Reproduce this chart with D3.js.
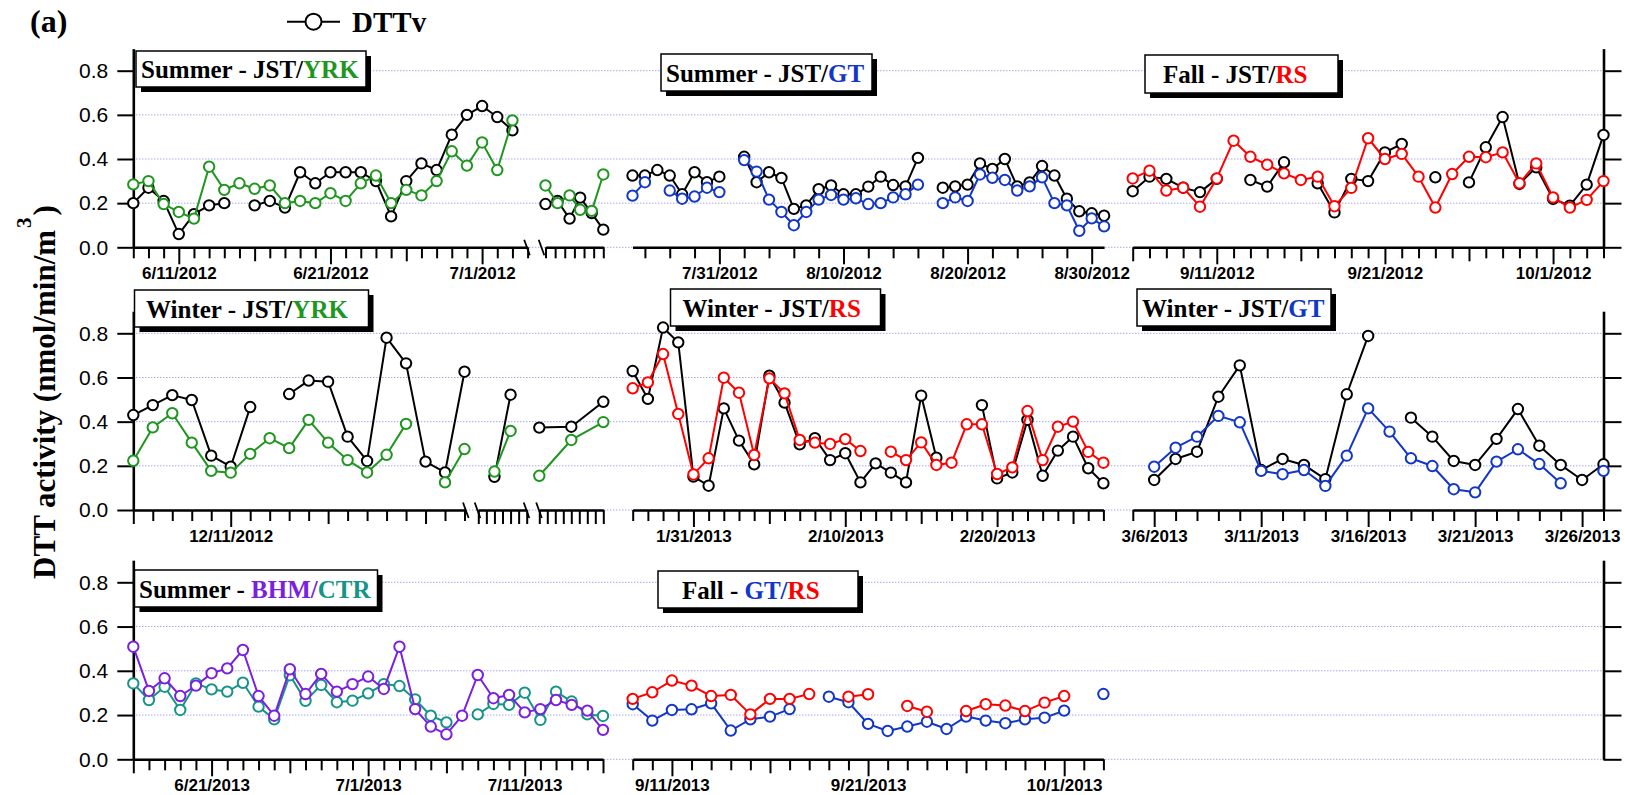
<!DOCTYPE html>
<html><head><meta charset="utf-8">
<script src="https://cdn.jsdelivr.net/npm/d3@7"></script>
<style>body{margin:0;background:#fff} svg{display:block}</style>
</head><body>
<svg id="chart" width="1625" height="795"></svg>
<script>
// ---------------- DATA ----------------
const yTicks = [0, 0.2, 0.4, 0.6, 0.8];

// Row 1, panel 1: Summer 2012 JST / YRK (daily from 6/8/2012)
const sumJY_start = "2012-06-08";
const sumJY_JST = [0.20,0.27,0.21,0.06,0.15,0.19,0.20,null,0.19,0.21,0.18,0.34,0.29,0.34,0.34,0.34,0.30,0.14,0.30,0.38,0.35,0.51,0.60,0.64,0.59,0.53];
const sumJY_YRK = [0.285,0.30,0.196,0.16,0.13,0.365,0.26,0.29,0.265,0.28,0.20,0.21,0.20,0.245,0.21,0.29,0.325,0.20,0.26,0.235,0.30,0.435,0.37,0.475,0.35,0.575];
const sumJY_labels = ["6/11/2012","6/21/2012","7/1/2012"];
// after axis break (positions in tick units)
const sumJY2_pos = [0,1.25,2.5,3.6,4.8,6];
const sumJY2_JST = [0.196,0.21,0.13,0.225,0.155,0.08];
const sumJY2_YRK = [0.28,0.20,0.235,0.17,0.165,0.33];

// Row 1, panel 2: Summer 2012 JST / GT (daily from 7/24/2012)
const sumJG_start = "2012-07-24";
const sumJG_JST = [0.325,0.325,0.35,0.325,0.24,0.34,0.295,0.32,null,0.41,0.295,0.34,0.314,0.174,0.19,0.263,0.28,0.24,0.24,0.275,0.32,0.282,0.276,0.405,null,0.27,0.276,0.284,0.38,0.355,0.40,0.276,0.294,0.368,0.325,0.22,0.163,0.154,0.143];
const sumJG_GT  = [0.234,0.295,null,0.257,0.22,0.23,0.27,0.25,null,0.395,0.343,0.216,0.16,0.10,0.16,0.216,0.237,0.216,0.222,0.196,0.20,0.226,0.24,0.284,null,0.20,0.226,0.21,0.33,0.315,0.305,0.257,0.276,0.317,0.20,0.19,0.075,0.131,0.095];
const sumJG_labels = ["7/31/2012","8/10/2012","8/20/2012","8/30/2012"];

// Row 1, panel 3: Fall 2012 JST / RS (daily from 9/6/2012)
const fallJR_start = "2012-09-06";
const fallJR_JST = [0.254,0.32,0.31,0.27,0.25,0.31,null,0.305,0.275,0.385,null,0.29,0.158,0.31,0.30,0.43,0.468,null,0.317,null,0.294,0.453,0.59,0.287,0.362,0.219,0.189,0.284,0.509];
const fallJR_RS  = [0.312,0.347,0.257,0.27,0.184,0.312,0.483,0.41,0.374,0.335,0.305,0.32,0.186,0.269,0.494,0.40,0.423,0.32,0.18,0.332,0.41,0.408,0.43,0.29,0.38,0.226,0.18,0.215,0.30];
const fallJR_labels = ["9/11/2012","9/21/2012","10/1/2012"];

// Row 2, panel 1: Winter 2012 JST / YRK (daily from 12/6/2012) + two broken segments
const winJY_start = "2012-12-06";
const winJY_JST = [0.43,0.475,0.52,0.498,0.246,0.196,0.466,null,0.525,0.586,0.581,0.332,0.222,0.78,0.664,0.219,0.17,0.626];
const winJY_YRK = [0.223,0.374,0.438,0.305,0.177,0.169,0.254,0.325,0.28,0.408,0.305,0.226,0.17,0.25,0.39,null,0.125,0.276];
const winJY_labels = ["12/11/2012"];
const winJY2_pos = [2,4];
const winJY2_JST = [0.15,0.522];
const winJY2_YRK = [0.174,0.358];
const winJY3_pos = [0,4,8];
const winJY3_JST = [0.373,0.377,0.49];
const winJY3_YRK = [0.155,0.317,0.398];

// Row 2, panel 2: Winter 2013 JST / RS (daily from 1/27/2013)
const winJR_start = "2013-01-27";
const winJR_JST = [0.629,0.503,0.826,0.759,0.151,0.11,0.46,0.314,0.207,0.608,0.486,0.297,0.325,0.226,0.257,0.125,0.211,0.169,0.125,0.518,0.237,null,null,0.475,0.143,0.17,0.408,0.155,0.269,0.332,0.189,0.121];
const winJR_RS  = [0.551,0.578,0.706,0.435,0.161,0.234,0.599,0.531,0.249,0.596,0.528,0.317,0.305,0.299,0.321,0.267,null,0.264,0.226,0.306,0.204,0.214,0.388,0.388,0.163,0.193,0.448,0.226,0.377,0.40,0.263,0.214];
const winJR_labels = ["1/31/2013","2/10/2013","2/20/2013"];

// Row 2, panel 3: Winter 2013 JST / GT (daily from 3/6/2013)
const winJG_start = "2013-03-06";
const winJG_JST = [0.136,0.231,0.264,0.513,0.655,0.181,0.231,0.204,0.14,0.524,0.788,null,0.418,0.332,0.222,0.204,0.322,0.457,0.291,0.204,0.136,0.207];
const winJG_GT  = [0.196,0.282,0.332,0.426,0.397,0.177,0.162,0.181,0.109,0.246,0.46,0.355,0.234,0.199,0.094,0.08,0.219,0.275,0.208,0.121,null,0.177];
const winJG_labels = ["3/6/2013","3/11/2013","3/16/2013","3/21/2013","3/26/2013"];

// Row 3, panel 1: Summer 2013 BHM / CTR (daily from 6/16/2013)
const sumBC_start = "2013-06-16";
const sumBC_BHM = [0.509,0.309,0.366,0.286,0.333,0.389,0.411,0.494,0.286,0.197,0.407,0.295,0.386,0.306,0.34,0.374,0.318,0.509,0.227,0.148,0.113,0.197,0.381,0.276,0.291,0.212,0.227,0.268,0.246,0.22,0.133];
const sumBC_CTR = [0.343,0.268,0.328,0.223,0.343,0.316,0.306,0.346,0.238,0.181,0.38,0.264,0.336,0.258,0.265,0.298,0.34,0.331,0.271,0.197,0.167,null,0.203,0.25,0.246,0.301,0.178,0.306,0.261,0.203,0.196];
const sumBC_labels = ["6/21/2013","7/1/2013","7/11/2013"];

// Row 3, panel 2: Fall 2013 GT / RS (daily from 9/9/2013)
const fallGR_start = "2013-09-09";
const fallGR_GT = [0.249,0.175,0.223,0.226,0.253,0.13,0.181,0.193,0.227,null,0.283,0.258,0.16,0.128,0.148,0.17,0.137,0.193,0.175,0.163,0.181,0.188,0.22,null,0.295];
const fallGR_RS = [0.273,0.303,0.356,0.333,0.286,0.291,0.203,0.273,0.273,0.295,null,0.283,0.294,null,0.241,0.215,null,0.218,0.249,0.243,0.218,0.256,0.286,null,null];
const fallGR_labels = ["9/11/2013","9/21/2013","10/1/2013"];

// ---------------- STYLE / LAYOUT ----------------
const C = {jst:"#000000", yrk:"#1f961f", gt:"#1236c8", rs:"#ff0000", bhm:"#7b1fe0", ctr:"#169488"};
const SERIF = "'Liberation Serif','Times New Roman',serif";
const SANS = "'Liberation Sans',Arial,sans-serif";
const parse = d3.utcParse("%Y-%m-%d");
const parseLabel = d3.utcParse("%m/%d/%Y");
const fmtDate = d3.utcFormat("%-m/%-d/%Y");

const svg = d3.select("#chart");
const ROWS = [{y0:247.3,y8:70.7},{y0:510,y8:333.3},{y0:759.3,y8:582.3}];
const X_LEFT = 133.3, X_RIGHT = 1603.5;
const yS = ROWS.map(r => d3.scaleLinear().domain([0,0.9]).range([r.y0, r.y0 - (r.y0-r.y8)*0.9/0.8]));

// gridlines
const gridG = svg.append("g");
ROWS.forEach((r,i) => {
  gridG.append("g").selectAll("line").data(yTicks).join("line")
    .attr("x1", X_LEFT).attr("x2", X_RIGHT)
    .attr("y1", d => yS[i](d)).attr("y2", d => yS[i](d))
    .attr("stroke", "#7c7cf0").attr("stroke-width", 1).attr("stroke-dasharray", "1,2");
});

const axesG = svg.append("g");
const dataG = svg.append("g");
const boxG = svg.append("g");

function styleAxis(g){
  g.attr("font-family", SANS).attr("font-size", 17).attr("font-weight","bold");
  g.select(".domain").attr("stroke","#000").attr("stroke-width",2.6);
  g.selectAll(".tick line").attr("stroke","#000").attr("stroke-width",2);
  g.selectAll(".tick text").attr("fill","#000");
}

// y axes
ROWS.forEach((r,i) => {
  const gl = axesG.append("g").attr("transform", `translate(${X_LEFT},0)`)
    .call(d3.axisLeft(yS[i]).tickValues(yTicks).tickFormat(d3.format(".1f")).tickSize(16).tickPadding(9).tickSizeOuter(0));
  styleAxis(gl);
  gl.attr("font-weight","normal").attr("font-size",21);
  const gr = axesG.append("g").attr("transform", `translate(${X_RIGHT},0)`)
    .call(d3.axisRight(yS[i]).tickValues(yTicks).tickFormat("").tickSize(18).tickSizeOuter(0));
  styleAxis(gr);
});

function series(start, values, color){
  const s = parse(start);
  return {color, pts: values.map((v,i)=>({x: d3.utcDay.offset(s,i), v}))};
}
function iseries(pos, values, color){
  return {color, pts: values.map((v,i)=>({x: pos[i], v}))};
}

function drawSeries(x, ys, s){
  const line = d3.line().defined(d => d.v != null).x(d => x(d.x)).y(d => ys(d.v));
  dataG.append("path").datum(s.pts).attr("d", line).attr("fill","none")
    .attr("stroke", s.color).attr("stroke-width", 2).attr("stroke-linejoin","round");
  dataG.append("g").selectAll("circle").data(s.pts.filter(d => d.v != null)).join("circle")
    .attr("cx", d => x(d.x)).attr("cy", d => ys(d.v)).attr("r", 5.2)
    .attr("fill","#fff").attr("stroke", s.color).attr("stroke-width", 2);
}

const timePanels = [
  {row:0, domain:["2012-06-08","2012-07-04"], range:[133.3,527.6], tickFrom:"2012-06-08", step:1, labels:sumJY_labels, mids:["2012-06-16","2012-06-26"],
   series:[series(sumJY_start,sumJY_JST,C.jst), series(sumJY_start,sumJY_YRK,C.yrk)]},
  {row:0, domain:["2012-07-24","2012-08-31"], range:[632.5,1104.1], tickFrom:"2012-07-25", step:2, labels:sumJG_labels, mids:[],
   series:[series(sumJG_start,sumJG_JST,C.jst), series(sumJG_start,sumJG_GT,C.gt)]},
  {row:0, domain:["2012-09-06","2012-10-04"], range:[1132.7,1603.5], tickFrom:"2012-09-06", step:1, labels:fallJR_labels, mids:["2012-09-06","2012-09-16","2012-09-26"],
   series:[series(fallJR_start,fallJR_JST,C.jst), series(fallJR_start,fallJR_RS,C.rs)]},
  {row:1, domain:["2012-12-06","2012-12-23"], range:[133.3,464.5], tickFrom:"2012-12-06", step:1, labels:winJY_labels, mids:["2012-12-06","2012-12-16","2012-12-21"],
   series:[series(winJY_start,winJY_JST,C.jst), series(winJY_start,winJY_YRK,C.yrk)]},
  {row:1, domain:["2013-01-27","2013-02-27"], range:[632.7,1103.4], tickFrom:"2013-01-27", step:1, labels:winJR_labels, mids:["2013-02-05","2013-02-15","2013-02-25"],
   series:[series(winJR_start,winJR_JST,C.jst), series(winJR_start,winJR_RS,C.rs)]},
  {row:1, domain:["2013-03-05","2013-03-27"], range:[1132.8,1603.5], tickFrom:"2013-03-05", step:1, labels:winJG_labels, mids:[],
   series:[series(winJG_start,winJG_JST,C.jst), series(winJG_start,winJG_GT,C.gt)]},
  {row:2, domain:["2013-06-16","2013-07-16"], range:[133.3,603.0], tickFrom:"2013-06-16", step:1, labels:sumBC_labels, mids:["2013-06-16","2013-06-26","2013-07-06","2013-07-16"],
   series:[series(sumBC_start,sumBC_CTR,C.ctr), series(sumBC_start,sumBC_BHM,C.bhm)]},
  {row:2, domain:["2013-09-09","2013-10-03"], range:[632.7,1103.4], tickFrom:"2013-09-09", step:1, labels:fallGR_labels, mids:["2013-09-16","2013-09-26"],
   series:[series(fallGR_start,fallGR_GT,C.gt), series(fallGR_start,fallGR_RS,C.rs)]}
];

timePanels.forEach(p => {
  const x = d3.scaleUtc().domain(p.domain.map(parse)).range(p.range);
  const y0 = ROWS[p.row].y0;
  const end = parse(p.domain[1]);
  const all = d3.utcDay.range(parse(p.tickFrom), d3.utcDay.offset(end,1)).filter((d,i) => i % p.step === 0);
  const majors = p.labels.map(parseLabel);
  const mids = p.mids.map(parse);
  const key = d => +d;
  const majSet = new Set(majors.map(key)), midSet = new Set(mids.map(key));
  const minors = all.filter(d => !majSet.has(+d) && !midSet.has(+d));
  const g1 = axesG.append("g").attr("transform",`translate(0,${y0})`)
    .call(d3.axisBottom(x).tickValues(minors).tickSize(11).tickFormat("").tickSizeOuter(0));
  styleAxis(g1);
  const g2 = axesG.append("g").attr("transform",`translate(0,${y0})`)
    .call(d3.axisBottom(x).tickValues(mids).tickSize(14).tickFormat("").tickSizeOuter(0));
  styleAxis(g2); g2.select(".domain").remove();
  const g3 = axesG.append("g").attr("transform",`translate(0,${y0})`)
    .call(d3.axisBottom(x).tickValues(majors).tickSize(17).tickPadding(3).tickFormat(fmtDate).tickSizeOuter(0));
  styleAxis(g3); g3.select(".domain").remove();
  p.series.forEach(s => drawSeries(x, yS[p.row], s));
});

// broken-axis index segments
const segPanels = [
  {row:0, n:7, range:[545.5,603.3], tick:11, series:[iseries(sumJY2_pos,sumJY2_JST,C.jst), iseries(sumJY2_pos,sumJY2_YRK,C.yrk)]},
  {row:1, n:7, range:[478.3,526.7], tick:14, series:[iseries(winJY2_pos,winJY2_JST,C.jst), iseries(winJY2_pos,winJY2_YRK,C.yrk)]},
  {row:1, n:9, range:[539.3,603.3], tick:14, series:[iseries(winJY3_pos,winJY3_JST,C.jst), iseries(winJY3_pos,winJY3_YRK,C.yrk)]}
];
segPanels.forEach(p => {
  const x = d3.scaleLinear().domain([0,p.n-1]).range(p.range);
  const g = axesG.append("g").attr("transform",`translate(0,${ROWS[p.row].y0})`)
    .call(d3.axisBottom(x).tickValues(d3.range(p.n)).tickSize(p.tick).tickFormat("").tickSizeOuter(0));
  styleAxis(g);
  p.series.forEach(s => drawSeries(x, yS[p.row], s));
});

// axis break marks
const breaks = [{row:0,x:527},{row:0,x:541.5},{row:1,x:465.8},{row:1,x:477.5},{row:1,x:526.5},{row:1,x:539}];
axesG.append("g").selectAll("line").data(breaks).join("line")
  .attr("x1", d => d.x-2.8).attr("y1", d => ROWS[d.row].y0-7.5)
  .attr("x2", d => d.x+2.8).attr("y2", d => ROWS[d.row].y0+8)
  .attr("stroke","#000").attr("stroke-width",1.8);

// title boxes
const boxes = [
  {x:136, y:51, w:230, h:36, tx:141, ty:77.5, parts:[["Summer - JST/",C.jst],["YRK",C.yrk]]},
  {x:661, y:54, w:211, h:37, tx:666, ty:81.5, parts:[["Summer - JST/",C.jst],["GT",C.gt]]},
  {x:1145, y:55, w:193, h:38, tx:1163, ty:83, parts:[["Fall - JST/",C.jst],["RS",C.rs]]},
  {x:134.5, y:290, w:234, h:37, tx:146, ty:317.5, parts:[["Winter - JST/",C.jst],["YRK",C.yrk]]},
  {x:670.5, y:289, w:210, h:37, tx:682.5, ty:316.5, parts:[["Winter - JST/",C.jst],["RS",C.rs]]},
  {x:1137, y:289, w:194, h:37, tx:1142, ty:317, parts:[["Winter - JST/",C.jst],["GT",C.gt]]},
  {x:134.5, y:570, w:243, h:37, tx:139, ty:597.5, parts:[["Summer - ",C.jst],["BHM/",C.bhm],["CTR",C.ctr]]},
  {x:658, y:571, w:200, h:37, tx:682, ty:599, parts:[["Fall - ",C.jst],["GT/",C.gt],["RS",C.rs]]}
];
boxes.forEach(b => {
  boxG.append("rect").attr("x",b.x+5).attr("y",b.y+5).attr("width",b.w).attr("height",b.h).attr("fill","#000");
  boxG.append("rect").attr("x",b.x).attr("y",b.y).attr("width",b.w).attr("height",b.h).attr("fill","#fff").attr("stroke","#000").attr("stroke-width",1.5);
  const t = boxG.append("text").attr("x",b.tx).attr("y",b.ty).attr("font-family",SERIF).attr("font-weight","bold").attr("font-size",25);
  b.parts.forEach(([s,c]) => t.append("tspan").attr("fill",c).text(s));
});

// panel label and legend
svg.append("text").attr("x",30).attr("y",32).attr("font-family",SERIF).attr("font-weight","bold").attr("font-size",32).text("(a)");
svg.append("line").attr("x1",287).attr("x2",340).attr("y1",21.7).attr("y2",21.7).attr("stroke","#000").attr("stroke-width",2);
svg.append("circle").attr("cx",313.5).attr("cy",21.7).attr("r",8).attr("fill","#fff").attr("stroke","#000").attr("stroke-width",2);
svg.append("text").attr("x",352).attr("y",32).attr("font-family",SERIF).attr("font-weight","bold").attr("font-size",29).text("DTTv");

// y axis title
const yt = svg.append("text").attr("transform","translate(55,392) rotate(-90)").attr("text-anchor","middle")
  .attr("font-family",SERIF).attr("font-weight","bold").attr("font-size",31);
yt.append("tspan").text("DTT activity (nmol/min/m");
yt.append("tspan").attr("font-size",21).attr("dy",-24).attr("dx",2).text("3");
yt.append("tspan").attr("dy",24).attr("dx",2).text(")");
</script>
</body></html>
